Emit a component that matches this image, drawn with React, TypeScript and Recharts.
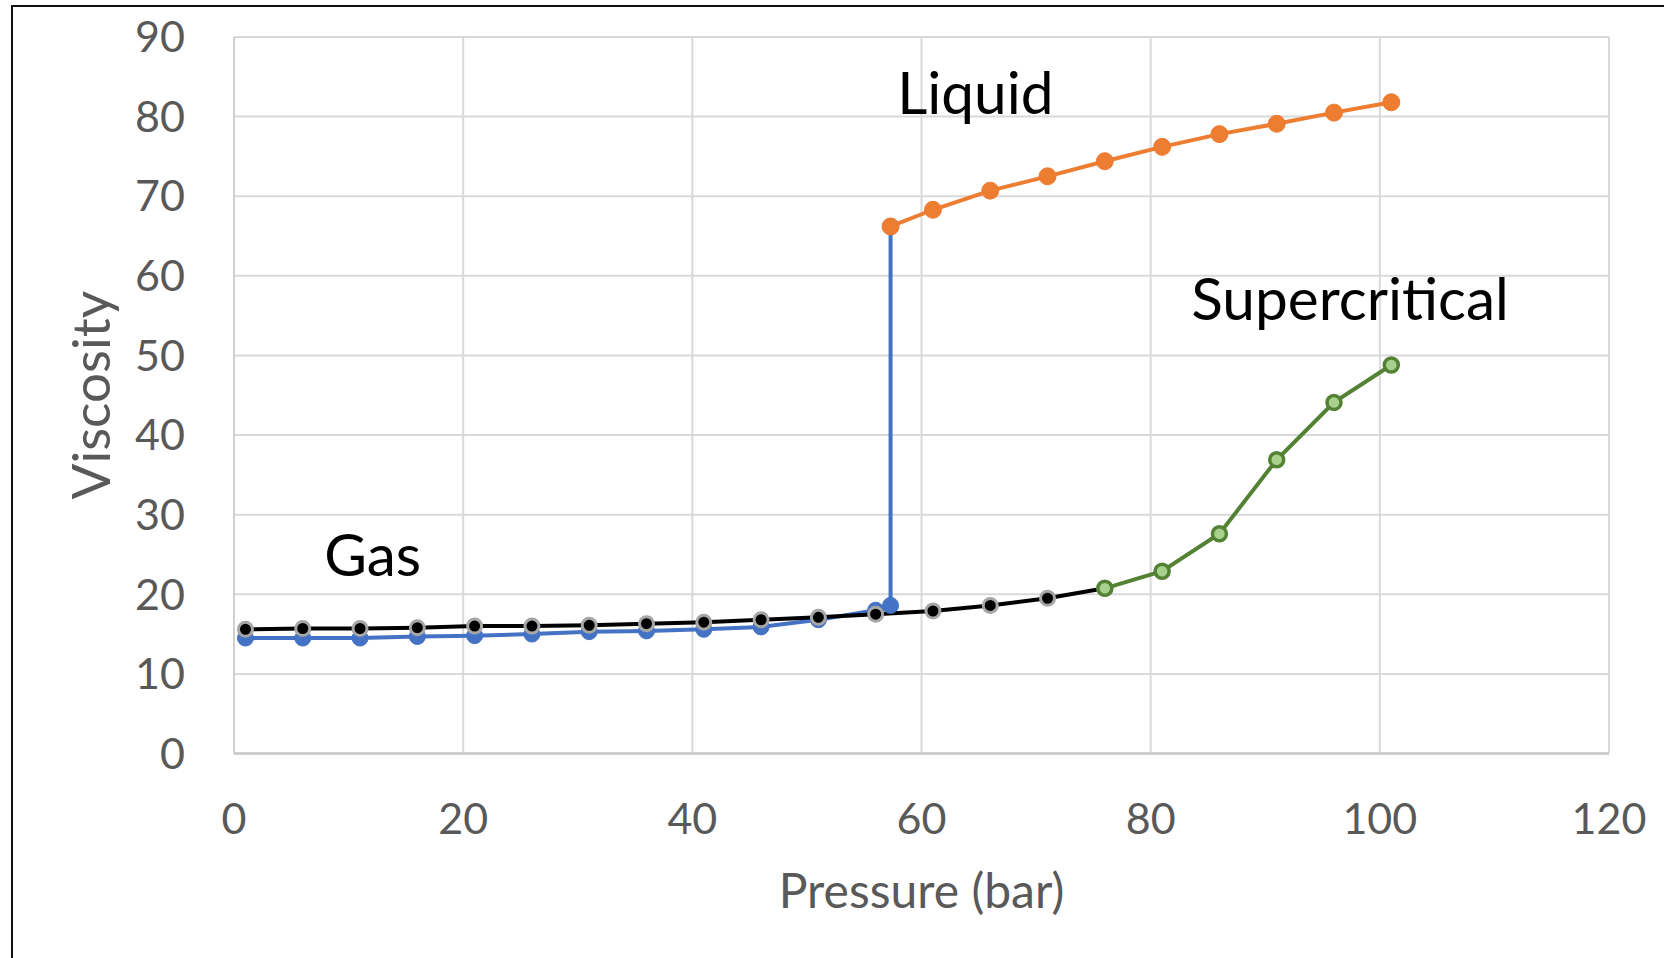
import React from "react";
import {
  ComposedChart,
  Line,
  Scatter,
  XAxis,
  YAxis,
  CartesianGrid,
} from "recharts";

// Pressure (bar) sample points along the gas branch
const gasPressure = [1, 6, 11, 16, 21, 26, 31, 36, 41, 46, 51, 56];
const gasViscosity = [14.5, 14.5, 14.5, 14.7, 14.8, 15.0, 15.3, 15.4, 15.6, 15.9, 16.8, 18.0];

// Phase jump at the saturation pressure
const saturationPressure = 57.3;
const gasAtSaturation = 18.6;

// Liquid branch
const liquidPressure = [57.3, 61, 66, 71, 76, 81, 86, 91, 96, 101];
const liquidViscosity = [66.2, 68.3, 70.7, 72.5, 74.4, 76.2, 77.8, 79.1, 80.5, 81.8];

// Continuous (subcritical-path) curve
const pathPressure = [1, 6, 11, 16, 21, 26, 31, 36, 41, 46, 51, 56, 61, 66, 71, 76];
const pathViscosity = [15.6, 15.7, 15.7, 15.8, 16.0, 16.0, 16.1, 16.3, 16.5, 16.8, 17.1, 17.5, 17.9, 18.6, 19.5, 20.75];

// Supercritical branch
const superPressure = [76, 81, 86, 91, 96, 101];
const superViscosity = [20.75, 22.9, 27.6, 36.9, 44.1, 48.8];

// Region annotations (text centre x, baseline y in data units)
const annotationText = ["Gas", "Liquid", "Supercritical"];
const annotationX = [12.1, 64.7, 97.4];
const annotationY = [22.3, 80.3, 54.5];

const xTicks = [0, 20, 40, 60, 80, 100, 120];
const yTicks = [0, 10, 20, 30, 40, 50, 60, 70, 80, 90];

const zip = (ps: number[], vs: number[]) => ps.map((p, i) => ({ p, v: vs[i] }));

const blueData = [
  ...zip(gasPressure, gasViscosity),
  { p: saturationPressure, v: gasAtSaturation },
  { p: liquidPressure[0], v: liquidViscosity[0] },
];
const orangeData = zip(liquidPressure, liquidViscosity);
const blackData = zip(pathPressure, pathViscosity);
const greenData = zip(superPressure, superViscosity);
const annotationData = annotationText.map((text, i) => ({
  p: annotationX[i],
  v: annotationY[i],
  text,
}));

const FONT = "Lato, 'Open Sans', sans-serif";
const TICK = { fill: "#595959", fontSize: 43, fontFamily: FONT };

const AnnotationShape = (props: any) => (
  <text
    x={props.cx}
    y={props.cy}
    textAnchor="middle"
    fill="#000000"
    fontSize={58.5}
    fontFamily={FONT}
  >
    {props.payload?.text ?? props.text}
  </text>
);

const YTitle = (props: any) => {
  const vb = props.viewBox || { x: 0, y: 37, width: 234, height: 716.5 };
  const x = vb.x + 110;
  const y = vb.y + vb.height / 2;
  return (
    <text
      x={x}
      y={y}
      transform={`rotate(-90, ${x}, ${y})`}
      textAnchor="middle"
      fill="#595959"
      fontSize={53}
      fontFamily={FONT}
    >
      Viscosity
    </text>
  );
};

const XTitle = (props: any) => {
  const vb = props.viewBox || { x: 234, y: 753.5, width: 1375, height: 204.5 };
  const x = vb.x + vb.width / 2;
  const y = vb.y + 154;
  return (
    <text x={x} y={y} textAnchor="middle" fill="#595959" fontSize={48} fontFamily={FONT}>
      Pressure (bar)
    </text>
  );
};

export default function App() {
  return (
    <div
      style={{
        position: "absolute",
        left: 0,
        top: 0,
        width: 1664,
        height: 958,
        overflow: "hidden",
        background: "#ffffff",
      }}
    >
      <div
        style={{
          position: "absolute",
          left: 11,
          top: 5,
          width: 1664 - 11,
          height: 958 - 5,
          borderLeft: "2px solid #111",
          borderTop: "2px solid #111",
          boxSizing: "border-box",
        }}
      />
      <div style={{ position: "absolute", left: 0, top: 0 }}>
        <ComposedChart
          width={1664}
          height={958}
          margin={{ top: 37, right: 55, left: 0, bottom: 0 }}
          style={{ fontFamily: FONT }}
        >
          <CartesianGrid stroke="#D9D9D9" strokeWidth={2} />
          <XAxis
            dataKey="p"
            type="number"
            domain={[0, 120]}
            ticks={xTicks}
            interval={0}
            height={204.5}
            tickSize={0}
            tickMargin={50}
            tick={TICK}
            axisLine={{ stroke: "#C9C9C9", strokeWidth: 2.5 }}
            tickLine={false}
            label={XTitle}
            allowDuplicatedCategory={false}
          />
          <YAxis
            dataKey="v"
            type="number"
            domain={[0, 90]}
            ticks={yTicks}
            interval={0}
            width={234}
            tickSize={0}
            tickMargin={49}
            tick={TICK}
            axisLine={{ stroke: "#D0D0D0", strokeWidth: 2 }}
            tickLine={false}
            label={YTitle}
          />
          <Line
            data={blueData}
            dataKey="v"
            type="linear"
            stroke="#4472C4"
            strokeWidth={4}
            dot={{ r: 8, fill: "#4472C4", stroke: "#4472C4", strokeWidth: 1 }}
            activeDot={false}
            isAnimationActive={false}
          />
          <Line
            data={orangeData}
            dataKey="v"
            type="linear"
            stroke="#ED7D31"
            strokeWidth={4}
            dot={{ r: 8.5, fill: "#ED7D31", stroke: "#ED7D31", strokeWidth: 1 }}
            activeDot={false}
            isAnimationActive={false}
          />
          <Line
            data={blackData}
            dataKey="v"
            type="linear"
            stroke="#000000"
            strokeWidth={4}
            dot={{ r: 7, fill: "#000000", stroke: "#A6A6A6", strokeWidth: 3 }}
            activeDot={false}
            isAnimationActive={false}
          />
          <Line
            data={greenData}
            dataKey="v"
            type="linear"
            stroke="#548235"
            strokeWidth={4}
            dot={{ r: 7, fill: "#A9D18E", stroke: "#548235", strokeWidth: 3.5 }}
            activeDot={false}
            isAnimationActive={false}
          />
          <Scatter
            data={annotationData}
            dataKey="v"
            shape={AnnotationShape}
            isAnimationActive={false}
          />
        </ComposedChart>
      </div>
    </div>
  );
}
